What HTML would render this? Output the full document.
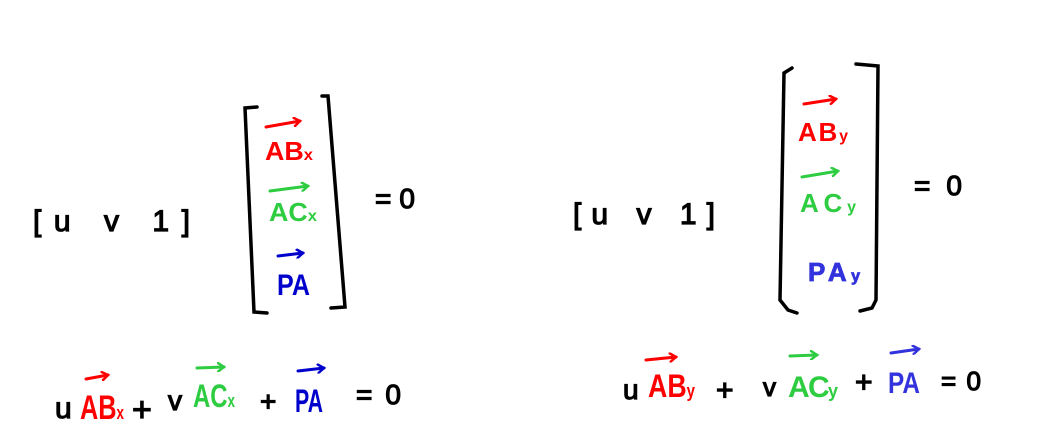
<!DOCTYPE html>
<html><head><meta charset="utf-8"><style>
html,body{margin:0;padding:0;background:#fff;width:1041px;height:447px;overflow:hidden}
svg{display:block}
text{font-family:"Liberation Sans",sans-serif;font-weight:bold}
.k{font-weight:normal;stroke:#000;stroke-width:1.2}
</style></head><body>
<svg width="1041" height="447" viewBox="0 0 1041 447">
<defs>
<marker id="ar" markerWidth="10" markerHeight="10" refX="7" refY="5" orient="auto" markerUnits="userSpaceOnUse"><path d="M0,0 L7,5 L0,10" fill="none" stroke="context-stroke" stroke-width="2.5"/></marker>
</defs>
<g stroke-linecap="round">
  <text class="k" x="33" y="231" font-size="30" textLength="157" lengthAdjust="spacing">[u v 1]</text>
  <path d="M257,107 L245,108 L254,312 L267,313" fill="none" stroke="#000" stroke-width="3.5"/>
  <path d="M322,96 L328,96 L345,307 L331,308" fill="none" stroke="#000" stroke-width="3.5"/>
  <text x="265" y="160" font-size="26" fill="#f00" textLength="48" lengthAdjust="spacingAndGlyphs">AB<tspan font-size="16">x</tspan></text>
  <line x1="266" y1="127" x2="300" y2="121" stroke="#f00" stroke-width="3" marker-end="url(#ar)"/>
  <text x="269" y="221" font-size="26" fill="#2ecc40" textLength="48" lengthAdjust="spacingAndGlyphs">AC<tspan font-size="16">x</tspan></text>
  <line x1="270" y1="191" x2="308" y2="186" stroke="#2ecc40" stroke-width="3" marker-end="url(#ar)"/>
  <text x="277" y="295" font-size="30" fill="#0000cc" textLength="33" lengthAdjust="spacingAndGlyphs">PA</text>
  <line x1="278" y1="256" x2="303" y2="253" stroke="#0000cc" stroke-width="3" marker-end="url(#ar)"/>
  <text class="k" x="375" y="208" font-size="28" textLength="40" lengthAdjust="spacing">= 0</text>

  <text class="k" x="55" y="418" font-size="30">u</text>
  <text x="80" y="419" font-size="34" fill="#f00" textLength="44" lengthAdjust="spacingAndGlyphs">AB<tspan font-size="18">x</tspan></text>
  <line x1="86" y1="379" x2="108" y2="375" stroke="#f00" stroke-width="3" marker-end="url(#ar)"/>
  <text class="k" x="132" y="421" font-size="34">+</text>
  <text class="k" x="168" y="410" font-size="28">v</text>
  <text x="193" y="407" font-size="32" fill="#2ecc40" textLength="42" lengthAdjust="spacingAndGlyphs">AC<tspan font-size="18">x</tspan></text>
  <line x1="197" y1="368" x2="224" y2="367" stroke="#2ecc40" stroke-width="3" marker-end="url(#ar)"/>
  <text class="k" x="260" y="411" font-size="28">+</text>
  <text x="295" y="412" font-size="32" fill="#0000cc" textLength="28" lengthAdjust="spacingAndGlyphs">PA</text>
  <line x1="298" y1="371" x2="324" y2="368" stroke="#0000cc" stroke-width="3" marker-end="url(#ar)"/>
  <text class="k" x="356" y="404" font-size="28" textLength="45" lengthAdjust="spacing">= 0</text>
</g>
<g stroke-linecap="round">
  <text class="k" x="573" y="224" font-size="30" textLength="142" lengthAdjust="spacing">[u v 1]</text>
  <path d="M792,68 L784,73 L780,300 L788,310 L797,313" fill="none" stroke="#000" stroke-width="3.5"/>
  <path d="M856,64 L878,66 L876,300 L872,308 L860,311" fill="none" stroke="#000" stroke-width="3.5"/>
  <text x="798" y="141" font-size="26" fill="#f00" textLength="50" lengthAdjust="spacing">AB<tspan font-size="16">y</tspan></text>
  <line x1="804" y1="104" x2="836" y2="99" stroke="#f00" stroke-width="3" marker-end="url(#ar)"/>
  <text x="800" y="212" font-size="26" fill="#2ecc40" textLength="56" lengthAdjust="spacing">AC<tspan font-size="16">y</tspan></text>
  <line x1="802" y1="177" x2="838" y2="171" stroke="#2ecc40" stroke-width="3" marker-end="url(#ar)"/>
  <text x="808" y="281" font-size="26" font-weight="normal" fill="#3333dd" stroke="#3333dd" stroke-width="0.8" textLength="52" lengthAdjust="spacing">PA<tspan font-size="16">y</tspan></text>
  <text class="k" x="914" y="195" font-size="28" textLength="48" lengthAdjust="spacing">= 0</text>

  <text class="k" x="623" y="399" font-size="28">u</text>
  <text x="648" y="397" font-size="32" fill="#f00" textLength="47" lengthAdjust="spacingAndGlyphs">AB<tspan font-size="18">y</tspan></text>
  <line x1="646" y1="360" x2="676" y2="357" stroke="#f00" stroke-width="3" marker-end="url(#ar)"/>
  <text class="k" x="716" y="400" font-size="30">+</text>
  <text class="k" x="763" y="396" font-size="26">v</text>
  <text x="788" y="397" font-size="30" fill="#2ecc40" textLength="50" lengthAdjust="spacing">AC<tspan font-size="18">y</tspan></text>
  <line x1="790" y1="356" x2="817" y2="355" stroke="#2ecc40" stroke-width="3" marker-end="url(#ar)"/>
  <text class="k" x="855" y="392" font-size="30">+</text>
  <text x="888" y="393" font-size="30" fill="#3333dd" textLength="32" lengthAdjust="spacingAndGlyphs">PA</text>
  <line x1="891" y1="353" x2="919" y2="349" stroke="#3333dd" stroke-width="3" marker-end="url(#ar)"/>
  <text class="k" x="941" y="390" font-size="26" textLength="40" lengthAdjust="spacing">= 0</text>
</g>
</svg>
</body></html>
